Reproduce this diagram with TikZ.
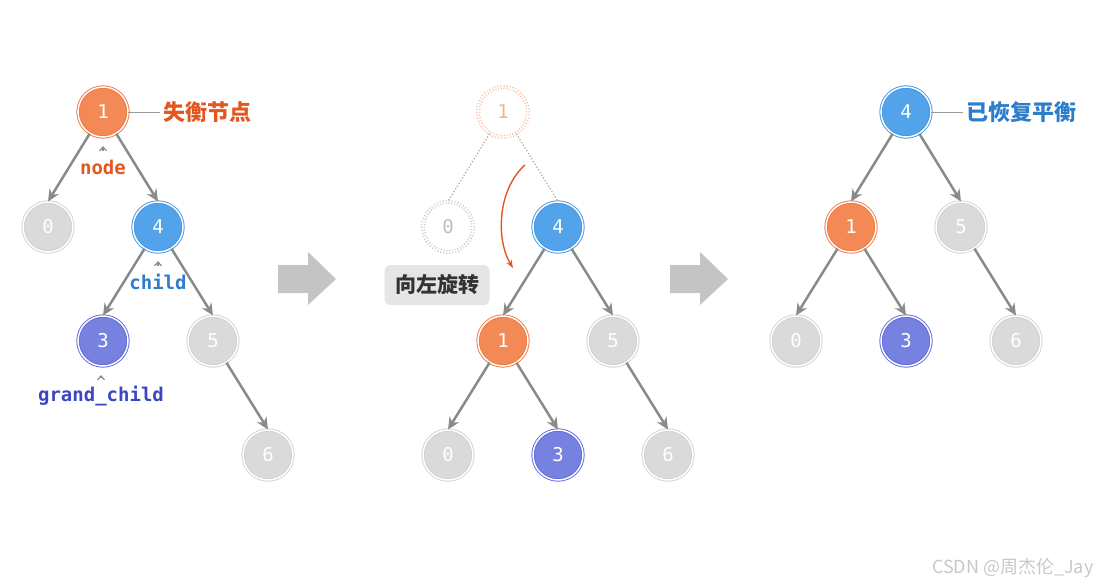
\documentclass[tikz,border=0pt]{standalone}
\usepackage{fontspec}
\newfontfamily\cjk{Noto Sans CJK SC}
\newfontfamily\monofont{DejaVu Sans Mono}
\usepackage{tikz}
\usetikzlibrary{arrows.meta,positioning,calc}

\definecolor{fillO}{HTML}{F38A55}
\definecolor{ringO}{HTML}{EF7842}
\definecolor{lblO}{HTML}{E4561E}
\definecolor{fillB}{HTML}{52A3EA}
\definecolor{ringB}{HTML}{3F96E3}
\definecolor{lblB}{HTML}{2E7DCB}
\definecolor{fillP}{HTML}{7781DF}
\definecolor{ringP}{HTML}{5E69DA}
\definecolor{lblP}{HTML}{3B45C6}
\definecolor{fillG}{HTML}{DADADA}
\definecolor{ringG}{HTML}{D2D2D2}
\definecolor{edgeG}{HTML}{8A8A8A}
\definecolor{blockG}{HTML}{C4C4C4}
\definecolor{ghostO}{HTML}{F6B393}
\definecolor{ghostG}{HTML}{BEBEBE}
\definecolor{wmG}{HTML}{C8C8C8}

\begin{document}
\begin{tikzpicture}[
    x=1pt, y=-1pt,
    vtx/.style={circle, minimum size=50pt, inner sep=0pt, line width=0.9pt, double=white, double distance=1.5pt, text=white, font=\monofont\fontsize{19}{19}\selectfont},
    hot/.style={vtx, draw=ringO, fill=fillO},
    cool/.style={vtx, draw=ringB, fill=fillB},
    deep/.style={vtx, draw=ringP, fill=fillP},
    dim/.style={vtx, draw=ringG, fill=fillG},
    ghost/.style={vtx, dotted, line width=1.2pt, double distance=1.6pt, fill=none, draw=#1, text=#1},
    arr/.style={-{Stealth[length=12pt,width=11pt]}, line width=2.5pt, edgeG},
    faint/.style={dotted, line width=1.2pt, gray!70},
    tag/.style={inner sep=1pt, font=\monofont\bfseries\fontsize{19}{19}\selectfont},
    tick/.style={-{Straight Barb[length=4pt,width=7pt]}, line width=1.2pt, edgeG, shorten <=7pt},
    note/.style={anchor=west, font=\cjk\bfseries\fontsize{22}{22}\selectfont},
    turn/.style={fill=black!10, rounded corners=6pt, minimum width=105pt, minimum height=40pt, text=black!80, font=\cjk\bfseries\fontsize{21}{21}\selectfont}
]
\useasboundingbox (0,0) rectangle (1099,585);

% before rotation
\node[hot] (a1) at (103,112) {1};
\node[dim] (a0) at (48,227) {0};
\node[cool] (a4) at (158,227) {4};
\node[deep] (a3) at (103,341) {3};
\node[dim] (a5) at (213,341) {5};
\node[dim] (a6) at (268,455) {6};

\draw[arr] (a1) -- (a0.north);
\draw[arr] (a1) -- (a4.north);
\draw[arr] (a4) -- (a3.north);
\draw[arr] (a4) -- (a5.north);
\draw[arr] (a5) -- (a6.north);

\node[note, text=lblO] (lost) at (160,112) {失衡节点};
\draw[gray!80, line width=0.7pt] (a1.east) -- (lost.west);

\node[tag, text=lblO] (nd) at (103,167) {node};
\coordinate (nd-t) at (103,146);
\draw[tick] (nd.north) -- (nd-t);
\node[tag, text=lblB] (ch) at (158,282) {child};
\coordinate (ch-t) at (158,261);
\draw[tick] (ch.north) -- (ch-t);
\node[tag, text=lblP] (gc) at (101,396) {grand\_child};
\coordinate (gc-t) at (101,375);
\draw[tick] (gc.north) -- (gc-t);

% during rotation
\node[ghost=ghostO] (b1g) at (503,112) {1};
\node[ghost=ghostG] (b0g) at (448,227) {0};
\node[cool] (b4) at (558,227) {4};
\node[hot] (b1) at (503,341) {1};
\node[dim] (b5) at (613,341) {5};
\node[dim] (b0) at (448,455) {0};
\node[deep] (b3) at (558,455) {3};
\node[dim] (b6) at (668,455) {6};

\draw[faint] (b1g) -- (b0g.north);
\draw[faint] (b1g) -- (b4.north);
\draw[arr] (b4) -- (b1.north);
\draw[arr] (b4) -- (b5.north);
\draw[arr] (b1) -- (b0.north);
\draw[arr] (b1) -- (b3.north);
\draw[arr] (b5) -- (b6.north);

\node[turn] (rot) at (437,285) {向左旋转};
\coordinate (sw-s) at (525,165);
\coordinate (sw-e) at (513,268);
\draw[-{Stealth[length=8pt,width=6pt]}, line width=1.4pt, lblO] (sw-s) .. controls (497,190) and (496,240) .. (sw-e);

% after rotation
\node[cool] (c4) at (906,112) {4};
\node[hot] (c1) at (851,227) {1};
\node[dim] (c5) at (961,227) {5};
\node[dim] (c0) at (796,341) {0};
\node[deep] (c3) at (906,341) {3};
\node[dim] (c6) at (1016,341) {6};

\draw[arr] (c4) -- (c1.north);
\draw[arr] (c4) -- (c5.north);
\draw[arr] (c1) -- (c0.north);
\draw[arr] (c1) -- (c3.north);
\draw[arr] (c5) -- (c6.north);

\node[note, text=lblB] (ok) at (963,112) {已恢复平衡};
\draw[gray!80, line width=0.7pt] (c4.east) -- (ok.west);

% step arrows
\foreach \x in {278,670}
  \fill[blockG] (\x,265) -- (\x+30,265) -- (\x+30,252) -- (\x+58,279) -- (\x+30,305) -- (\x+30,293) -- (\x,293) -- cycle;

\node[anchor=east, text=wmG, font=\cjk\fontsize{18}{18}\selectfont] (mark) at (1097,568) {CSDN @周杰伦\_Jay};
\end{tikzpicture}
\end{document}
